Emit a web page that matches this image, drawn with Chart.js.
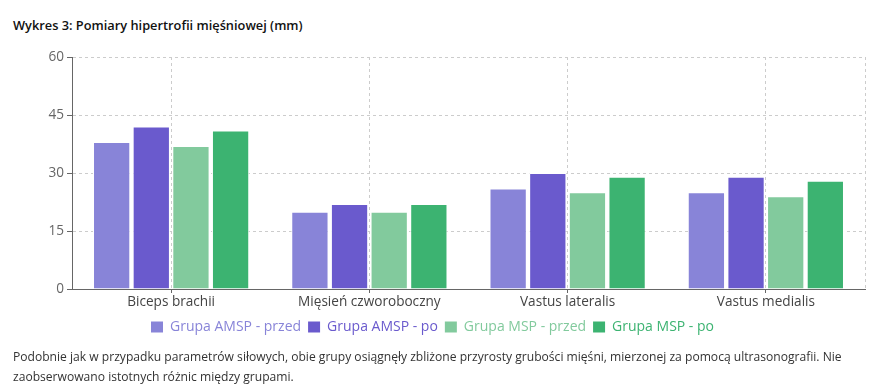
<!DOCTYPE html>
<html>
<head>
<meta charset="utf-8">
<script src="https://cdn.jsdelivr.net/npm/chart.js@4.4.1/dist/chart.umd.min.js"></script>
<style>
  html, body { margin: 0; padding: 0; background: #fff; }
  body { width: 885px; height: 392px; position: relative; overflow: hidden; font-family: "Open Sans", "Noto Sans", sans-serif; }
  #title { position: absolute; left: 13px; top: 16px; font-size: 12.8px; font-weight: 600; color: #111; white-space: nowrap; }
  #wrap { position: absolute; left: 0; top: 40px; width: 885px; height: 308px; }
  #note { position: absolute; left: 13px; top: 347px; font-size: 12.1px; line-height: 20px; color: #333; white-space: nowrap; }
</style>
</head>
<body>
<div id="title">Wykres 3: Pomiary hipertrofii mięśniowej (mm)</div>
<div id="wrap"><canvas id="c" width="885" height="308"></canvas></div>
<div id="note">Podobnie jak w przypadku parametrów siłowych, obie grupy osiągnęły zbliżone przyrosty grubości mięśni, mierzonej za pomocą ultrasonografii. Nie<br>zaobserwowano istotnych różnic między grupami.</div>
<script>
const categories = ["Biceps brachii", "Mięsień czworoboczny", "Vastus lateralis", "Vastus medialis"];
const seriesNames = ["Grupa AMSP - przed", "Grupa AMSP - po", "Grupa MSP - przed", "Grupa MSP - po"];
const amspPrzed = [38, 20, 26, 25];
const amspPo = [42, 22, 30, 29];
const mspPrzed = [37, 20, 25, 24];
const mspPo = [41, 22, 29, 28];
const yTicks = [0, 15, 30, 45, 60];
const colors = ["#8884d8", "#6a5acd", "#82ca9d", "#3cb371"];

const seriesValues = [amspPrzed, amspPo, mspPrzed, mspPo];

const rightEdgePlugin = {
  id: 'rightEdge',
  beforeDatasetsDraw(chart) {
    const { ctx, chartArea } = chart;
    ctx.save();
    ctx.strokeStyle = '#cccccc';
    ctx.lineWidth = 1;
    ctx.setLineDash([3, 3]);
    ctx.beginPath();
    ctx.moveTo(Math.round(chartArea.right) + 0.5, chartArea.top);
    ctx.lineTo(Math.round(chartArea.right) + 0.5, chartArea.bottom);
    ctx.stroke();
    ctx.restore();
  }
};

new Chart(document.getElementById('c'), {
  type: 'bar',
  data: {
    labels: categories,
    datasets: seriesNames.map((n, i) => ({
      label: n,
      data: seriesValues[i],
      backgroundColor: colors[i],
      borderColor: '#ffffff',
      borderWidth: 1,
      barPercentage: 0.94,
      categoryPercentage: 0.8
    }))
  },
  options: {
    responsive: false,
    animation: false,
    layout: { padding: { left: 0, right: 20, top: 17, bottom: 4 } },
    plugins: {
      title: { display: false },
      tooltip: { enabled: false },
      legend: {
        position: 'bottom',
        labels: {
          font: { family: "'Open Sans', sans-serif", size: 14 },
          boxWidth: 12,
          boxHeight: 11,
          padding: 7,
          generateLabels(chart) {
            return chart.data.datasets.map((d, i) => ({
              text: d.label,
              fillStyle: colors[i],
              strokeStyle: colors[i],
              lineWidth: 0,
              fontColor: colors[i],
              datasetIndex: i,
              hidden: false
            }));
          }
        }
      }
    },
    scales: {
      x: {
        grid: {
          offset: false,
          color: '#cccccc',
          tickColor: '#666666',
          tickLength: 4,
          tickBorderDash: [],
          drawTicks: true
        },
        border: { display: true, color: '#666666', width: 1, dash: [3, 3] },
        ticks: {
          color: '#444444',
          padding: 1,
          font: { family: "'Open Sans', sans-serif", size: 13.6 }
        },
        afterFit(s) { s.height = 24; }
      },
      y: {
        min: 0,
        max: 60,
        afterBuildTicks(s) { s.ticks = yTicks.map(v => ({ value: v })); },
        grid: {
          color: (ctx) => ctx.tick && ctx.tick.value === 0 ? 'rgba(0,0,0,0)' : '#cccccc',
          tickColor: '#666666',
          tickLength: 5,
          tickBorderDash: []
        },
        border: { display: true, color: '#666666', width: 1, dash: [3, 3] },
        ticks: {
          color: '#666666',
          padding: 3,
          font: { family: "'Open Sans', sans-serif", size: 13.6 }
        },
        afterFit(s) { s.width = 72; }
      }
    }
  },
  plugins: [rightEdgePlugin]
});
</script>
</body>
</html>
